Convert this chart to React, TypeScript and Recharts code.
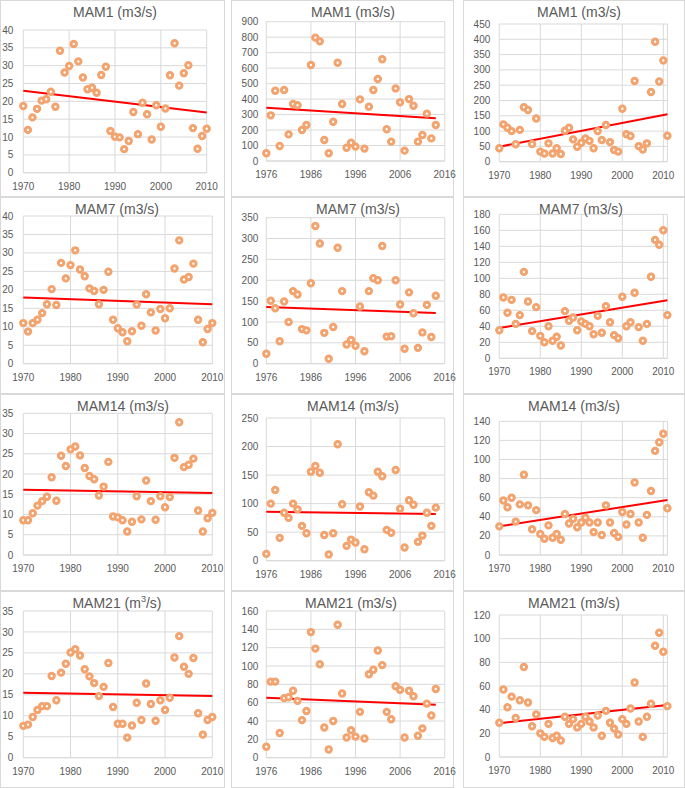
import React from 'react';
import { ScatterChart, Scatter, XAxis, YAxis, CartesianGrid, ReferenceLine } from 'recharts';

const yearsA = [1970, 1971, 1972, 1973, 1974, 1975, 1976, 1977, 1978, 1979, 1980, 1981, 1982, 1983, 1984, 1985, 1986, 1987, 1988, 1989, 1990, 1991, 1992, 1993, 1994, 1995, 1996, 1997, 1998, 1999, 2000, 2001, 2002, 2003, 2004, 2005, 2006, 2007, 2008, 2009, 2010];
const yearsB = [1976, 1977, 1978, 1979, 1980, 1981, 1982, 1983, 1984, 1985, 1986, 1987, 1988, 1989, 1990, 1991, 1992, 1993, 1994, 1995, 1996, 1997, 1998, 1999, 2000, 2001, 2002, 2003, 2004, 2005, 2006, 2007, 2008, 2009, 2010, 2011, 2012, 2013, 2014];
const yearsC = [1970, 1971, 1972, 1973, 1974, 1975, 1976, 1977, 1978, 1979, 1980, 1981, 1982, 1983, 1984, 1985, 1986, 1987, 1988, 1989, 1990, 1991, 1992, 1993, 1994, 1995, 1996, 1997, 1998, 1999, 2000, 2001, 2002, 2003, 2004, 2005, 2006, 2007, 2008, 2009, 2010, 2011];

const xTicksA = [1970, 1980, 1990, 2000, 2010];
const xTicksB = [1976, 1986, 1996, 2006, 2016];
const xTicksC = [1970, 1980, 1990, 2000, 2010];

const mam1A = [18.7, 12.0, 15.5, 17.9, 20.2, 20.6, 22.7, 18.5, 34.2, 28.1, 29.9, 36.1, 31.2, 26.7, 23.4, 23.8, 22.4, 27.4, 29.7, 11.7, 10.1, 9.9, 6.6, 8.9, 17.0, 10.8, 19.6, 16.4, 9.3, 18.9, 12.9, 18.0, 27.3, 36.3, 24.4, 27.9, 30.1, 12.5, 6.7, 10.3, 12.3];
const mam7A = [11.0, 8.7, 11.0, 11.9, 13.7, 16.1, 20.2, 15.9, 27.3, 23.1, 26.7, 30.7, 25.5, 23.7, 20.4, 19.7, 16.1, 20.0, 24.9, 11.9, 9.6, 8.5, 6.1, 8.8, 16.0, 10.3, 18.8, 13.9, 9.0, 14.8, 12.3, 15.0, 25.8, 33.4, 22.8, 23.5, 27.1, 11.9, 5.8, 9.4, 11.0];
const mam14A = [8.6, 8.6, 10.3, 12.2, 13.3, 14.4, 19.2, 13.4, 24.5, 22.0, 26.1, 26.8, 24.6, 21.5, 19.5, 18.7, 14.7, 16.9, 23.0, 9.5, 9.3, 8.6, 5.8, 8.2, 14.5, 8.8, 18.4, 13.3, 8.7, 14.5, 11.8, 14.3, 24.0, 32.8, 21.7, 22.3, 23.8, 11.0, 5.8, 9.1, 10.4];
const mam21A = [7.6, 7.9, 9.7, 11.4, 12.3, 12.3, 19.5, 13.7, 20.3, 22.4, 25.1, 25.9, 24.4, 21.1, 19.4, 17.8, 14.7, 16.9, 22.6, 12.1, 8.1, 8.1, 4.8, 7.7, 13.1, 9.0, 17.7, 12.8, 8.8, 13.7, 11.4, 14.3, 23.9, 29.0, 21.7, 20.0, 23.8, 10.6, 5.5, 9.0, 9.7];

const mam1B = [50, 295, 454, 97, 459, 172, 368, 360, 200, 233, 620, 797, 773, 136, 50, 254, 635, 368, 86, 118, 93, 398, 80, 351, 459, 530, 657, 205, 125, 469, 379, 67, 400, 357, 125, 168, 306, 146, 233];
const mam7B = [24, 151, 133, 54, 149, 100, 174, 166, 83, 80, 193, 330, 288, 74, 12, 88, 278, 174, 46, 57, 43, 137, 30, 174, 205, 200, 282, 65, 66, 200, 142, 36, 171, 121, 38, 75, 141, 64, 163];
const mam14B = [12, 100, 124, 40, 84, 75, 100, 90, 61, 48, 156, 166, 154, 45, 11, 48, 204, 99, 26, 37, 32, 95, 20, 120, 114, 156, 148, 54, 49, 159, 91, 23, 106, 98, 33, 44, 84, 61, 93];
const mam21B = [12, 83, 83, 27, 65, 66, 73, 62, 41, 51, 137, 119, 102, 33, 9, 40, 145, 70, 22, 30, 23, 50, 21, 91, 96, 117, 101, 50, 42, 78, 74, 22, 73, 67, 24, 32, 59, 46, 75];

const mam1C = [44, 122, 111, 100, 57, 104, 178, 169, 58, 141, 33, 27, 60, 27, 44, 25, 101, 111, 73, 49, 62, 76, 68, 44, 100, 71, 120, 64, 38, 33, 173, 90, 84, 264, 51, 40, 60, 228, 392, 262, 331, 85];
const mam7C = [35, 76, 57, 73, 43, 54, 108, 71, 34, 64, 28, 20, 40, 22, 27, 16, 59, 47, 51, 35, 46, 43, 40, 30, 53, 32, 65, 45, 29, 25, 77, 40, 45, 82, 39, 22, 43, 102, 148, 142, 160, 54];
const mam14C = [30, 57, 50, 60, 35, 53, 84, 52, 27, 47, 22, 17, 31, 18, 22, 16, 43, 33, 38, 29, 34, 39, 34, 24, 34, 21, 52, 34, 23, 19, 45, 32, 43, 76, 34, 18, 42, 67, 109, 118, 127, 49];
const mam21C = [29, 57, 42, 51, 33, 48, 76, 46, 26, 36, 20, 17, 28, 16, 18, 14, 34, 28, 32, 25, 28, 34, 30, 25, 35, 18, 39, 29, 24, 19, 32, 28, 41, 63, 30, 17, 34, 45, 94, 105, 89, 43];

// trend line end values (first year, last year)
const trend1A = [23.0, 16.9];
const trend7A = [17.9, 16.1];
const trend14A = [16.1, 15.3];
const trend21A = [15.5, 14.7];
const trend1B = [344, 276];
const trend7B = [136, 121.5];
const trend14B = [85.9, 81.8];
const trend21B = [65.5, 57.8];
const trend1C = [49, 155];
const trend7C = [37.9, 72.5];
const trend14C = [30, 57.6];
const trend21C = [28.5, 44];

const yTicks1A = [0, 5, 10, 15, 20, 25, 30, 35, 40];
const yTicks7A = [0, 5, 10, 15, 20, 25, 30, 35, 40];
const yTicks14A = [0, 5, 10, 15, 20, 25, 30, 35];
const yTicks21A = [0, 5, 10, 15, 20, 25, 30, 35];
const yTicks1B = [0, 100, 200, 300, 400, 500, 600, 700, 800, 900];
const yTicks7B = [0, 50, 100, 150, 200, 250, 300, 350];
const yTicks14B = [0, 50, 100, 150, 200, 250];
const yTicks21B = [0, 20, 40, 60, 80, 100, 120, 140, 160];
const yTicks1C = [0, 50, 100, 150, 200, 250, 300, 350, 400, 450];
const yTicks7C = [0, 20, 40, 60, 80, 100, 120, 140, 160, 180];
const yTicks14C = [0, 20, 40, 60, 80, 100, 120, 140];
const yTicks21C = [0, 20, 40, 60, 80, 100, 120];

const FONT = '"Liberation Sans", Arial, Helvetica, sans-serif';
const TEXT = '#595959';
const GRID = '#d9d9d9';
const MARK = '#F2A36E';

type Spec = {
  title: React.ReactNode;
  years: number[];
  values: number[];
  trend: number[];
  yTicks: number[];
  xTicks: number[];
  xDomain: [number, number];
  x0: number;
  y0: number;
  L: number;
  R: number;
  T: number;
  B: number;
  titleX: number;
  gap: number;
};

const colA = { xTicks: xTicksA, xDomain: [1970, 2010] as [number, number], x0: 0, gap: 10 };
const colB = { xTicks: xTicksB, xDomain: [1976, 2016] as [number, number], x0: 228, gap: 8 };
const colC = { xTicks: xTicksC, xDomain: [1970, 2011] as [number, number], x0: 456, gap: 9 };

const m3 = (name: string) => <span>{name} (m3/s)</span>;

const specs: Spec[] = [
  { ...colA, title: m3('MAM1'), years: yearsA, values: mam1A, trend: trend1A, yTicks: yTicks1A, y0: 0, L: 23.3, R: 206.7, T: 30, B: 172.7, titleX: 115 },
  { ...colB, title: m3('MAM1'), years: yearsB, values: mam1B, trend: trend1B, yTicks: yTicks1B, y0: 0, L: 38.3, R: 216.7, T: 21.7, B: 161, titleX: 125 },
  { ...colC, title: m3('MAM1'), years: yearsC, values: mam1C, trend: trend1C, yTicks: yTicks1C, y0: 0, L: 43.3, R: 211.4, T: 24, B: 161.7, titleX: 123 },
  { ...colA, title: m3('MAM7'), years: yearsA, values: mam7A, trend: trend7A, yTicks: yTicks7A, y0: 197, L: 23.3, R: 212.3, T: 19, B: 166.7, titleX: 117 },
  { ...colB, title: m3('MAM7'), years: yearsB, values: mam7B, trend: trend7B, yTicks: yTicks7B, y0: 197, L: 38.3, R: 216.7, T: 20.7, B: 166.7, titleX: 130 },
  { ...colC, title: m3('MAM7'), years: yearsC, values: mam7C, trend: trend7C, yTicks: yTicks7C, y0: 197, L: 43.3, R: 211.4, T: 17.3, B: 161.3, titleX: 125 },
  { ...colA, title: m3('MAM14'), years: yearsA, values: mam14A, trend: trend14A, yTicks: yTicks14A, y0: 394, L: 23.3, R: 212.3, T: 19.3, B: 161, titleX: 123 },
  { ...colB, title: m3('MAM14'), years: yearsB, values: mam14B, trend: trend14B, yTicks: yTicks14B, y0: 394, L: 38.3, R: 216.7, T: 24, B: 166.7, titleX: 125 },
  { ...colC, title: m3('MAM14'), years: yearsC, values: mam14C, trend: trend14C, yTicks: yTicks14C, y0: 394, L: 43.3, R: 211.4, T: 27.3, B: 161, titleX: 118 },
  { ...colA, title: <span>MAM21 (m<sup style={{ fontSize: '0.65em', lineHeight: 0 }}>3</sup>/s)</span>, years: yearsA, values: mam21A, trend: trend21A, yTicks: yTicks21A, y0: 591, L: 23.3, R: 212.3, T: 20, B: 166.7, titleX: 117 },
  { ...colB, title: m3('MAM21'), years: yearsB, values: mam21B, trend: trend21B, yTicks: yTicks21B, y0: 591, L: 38.3, R: 216.7, T: 20, B: 166.7, titleX: 123 },
  { ...colC, title: m3('MAM21'), years: yearsC, values: mam21C, trend: trend21C, yTicks: yTicks21C, y0: 591, L: 43.3, R: 211.4, T: 24, B: 166, titleX: 118 },
];

const frames = [
  { x: 0, w: 225 },
  { x: 231, w: 223 },
  { x: 463, w: 222 },
];
const frameRows = [0, 197, 394, 591];

const Marker = (props: any) => {
  const { cx, cy } = props;
  if (cx == null || cy == null) return null;
  return <circle cx={cx} cy={cy} r={2.7} fill="#ffffff" stroke={MARK} strokeWidth={3} />;
};

const CW = 240;
const CH = 197;

function Panel({ s }: { s: Spec }) {
  const data = s.years.map((yr, i) => ({ x: yr, y: s.values[i] }));
  const x1 = s.years[0];
  const x2 = s.years[s.years.length - 1];
  const yMax = s.yTicks[s.yTicks.length - 1];
  return (
    <div style={{ position: 'absolute', left: s.x0, top: s.y0, width: CW, height: CH }}>
      <ScatterChart
        width={CW}
        height={CH}
        margin={{ top: s.T, right: CW - s.R, bottom: 0, left: 0 }}
        style={{ overflow: 'visible' }}
      >
        <CartesianGrid stroke={GRID} strokeWidth={1} />
        <XAxis
          type="number"
          dataKey="x"
          domain={s.xDomain}
          ticks={s.xTicks}
          interval={0}
          height={CH - s.B}
          tickLine={false}
          tickSize={0}
          tickMargin={10}
          axisLine={{ stroke: GRID }}
          tick={{ fontSize: 10, fill: TEXT, fontFamily: FONT }}
        />
        <YAxis
          type="number"
          dataKey="y"
          domain={[0, yMax]}
          ticks={s.yTicks}
          interval={0}
          width={s.L}
          tickLine={false}
          tickSize={0}
          tickMargin={s.gap}
          axisLine={false}
          tick={{ fontSize: 10, fill: TEXT, fontFamily: FONT }}
        />
        <Scatter data={data} shape={Marker} isAnimationActive={false} />
        <ReferenceLine
          segment={[{ x: x1, y: s.trend[0] }, { x: x2, y: s.trend[1] }]}
          stroke="#FF0000"
          strokeWidth={2}
          ifOverflow="visible"
        />
      </ScatterChart>
      <div
        style={{
          position: 'absolute',
          left: s.titleX,
          top: 3.5,
          transform: 'translateX(-50%)',
          whiteSpace: 'nowrap',
          fontFamily: FONT,
          fontSize: 14,
          lineHeight: '16px',
          color: TEXT,
        }}
      >
        {s.title}
      </div>
    </div>
  );
}

export default function App() {
  return (
    <div style={{ position: 'absolute', left: 0, top: 0, width: 685, height: 788, background: '#fff', overflow: 'hidden' }}>
      {frameRows.map((fy) =>
        frames.map((f) => (
          <div
            key={`${f.x}-${fy}`}
            style={{
              position: 'absolute',
              left: f.x,
              top: fy,
              width: f.w - 2,
              height: 195,
              border: `1px solid ${GRID}`,
            }}
          />
        ))
      )}
      {specs.map((s, i) => (
        <Panel key={i} s={s} />
      ))}
    </div>
  );
}
